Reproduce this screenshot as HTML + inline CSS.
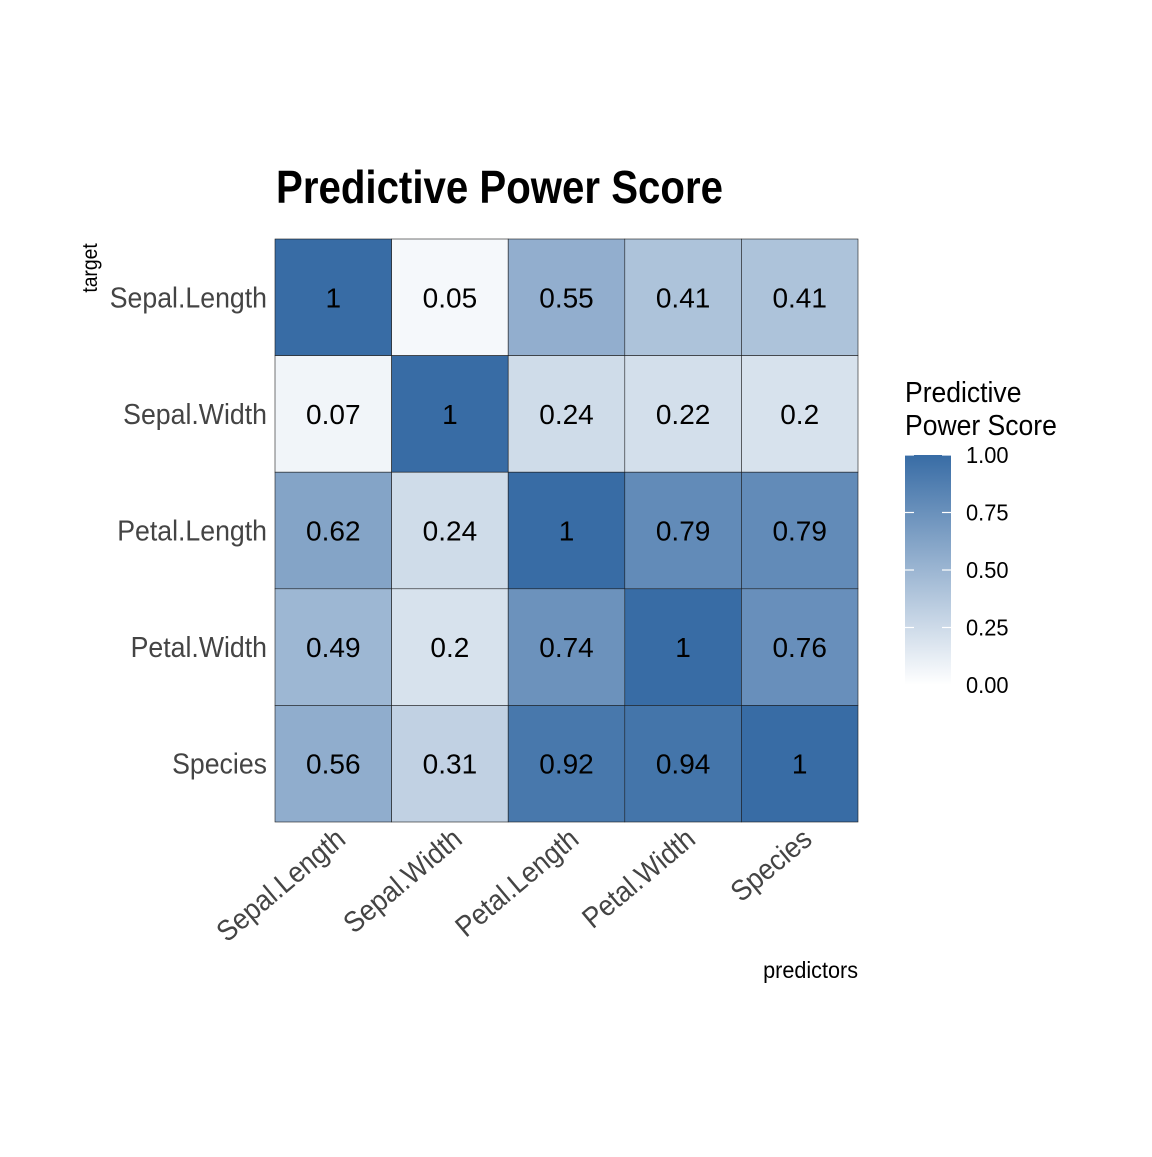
<!DOCTYPE html>
<html><head><meta charset="utf-8"><style>
body{margin:0;background:#fff;}
svg text{font-family:"Liberation Sans Narrow","Liberation Sans",sans-serif;}
</style></head><body>
<svg width="1152" height="1152" viewBox="0 0 1152 1152">
<text x="276" y="203" font-size="46" font-weight="bold" fill="#000" textLength="447" lengthAdjust="spacingAndGlyphs">Predictive Power Score</text>
<g id="cells"></g>
<g id="ylabels"></g>
<g id="xlabels"></g>
<text transform="translate(97,268) rotate(-90) scale(0.92,1)" text-anchor="middle" font-size="21" fill="#000">target</text>
<text transform="translate(858,978) scale(0.94,1)" text-anchor="end" font-size="23" fill="#000">predictors</text>
<defs><linearGradient id="lg" x1="0" y1="1" x2="0" y2="0">
<stop offset="0" stop-color="#ffffff"/><stop offset="1" stop-color="#386ca5"/></linearGradient></defs>
<text transform="translate(905,402) scale(0.915,1)" font-size="29" fill="#000">Predictive</text>
<text transform="translate(905,435) scale(0.915,1)" font-size="29" fill="#000">Power Score</text>
<rect x="905" y="455" width="46" height="230" fill="url(#lg)"/>
<g id="legend"></g>
</svg>
<script>
const predictors=["Sepal.Length","Sepal.Width","Petal.Length","Petal.Width","Species"];
const targets=["Sepal.Length","Sepal.Width","Petal.Length","Petal.Width","Species"];
const row0=[1,0.05,0.55,0.41,0.41];
const row1=[0.07,1,0.24,0.22,0.2];
const row2=[0.62,0.24,1,0.79,0.79];
const row3=[0.49,0.2,0.74,1,0.76];
const row4=[0.56,0.31,0.92,0.94,1];
const values=[row0,row1,row2,row3,row4];
const legendTicks=[0,0.25,0.5,0.75,1];
const NS="http://www.w3.org/2000/svg";
const x0=275,y0=239,cw=116.6,ch=116.6;
const xs=i=>x0+i*cw, ys=j=>y0+j*ch;
function col(v){const a=[255,255,255],b=[56,108,165];return "rgb("+a.map((c,i)=>Math.round(c+(b[i]-c)*v)).join(",")+")";}
function mk(t,at){const e=document.createElementNS(NS,t);for(const k in at)e.setAttribute(k,at[k]);return e;}
const cells=document.getElementById("cells");
values.forEach((r,j)=>r.forEach((v,i)=>{
 const rc=mk("rect",{x:xs(i),y:ys(j),width:cw,height:ch,fill:col(v),stroke:"#1a1a1a","stroke-width":0.6});
 
 
 cells.appendChild(rc);
 const t=mk("text",{x:xs(i)+cw/2,y:ys(j)+ch/2+10,"text-anchor":"middle","font-size":28,fill:"#000"});
 t.style.fontFamily='"Liberation Sans",sans-serif';
 t.textContent=String(v);
 
 
 cells.appendChild(t);
}));
const yl=document.getElementById("ylabels");
targets.forEach((n,j)=>{const t=mk("text",{transform:"translate(267,"+(ys(j)+ch/2+10)+") scale(0.92,1)","text-anchor":"end","font-size":29,fill:"#444"});t.textContent=n;
 
 yl.appendChild(t);});
const xl=document.getElementById("xlabels");
predictors.forEach((n,i)=>{const cx=xs(i)+cw/2+14;const t=mk("text",{transform:"translate("+cx+",842) rotate(-40) scale(0.92,1)","text-anchor":"end","font-size":29,fill:"#444"});t.textContent=n;
 
 xl.appendChild(t);});
const lg=document.getElementById("legend");
legendTicks.forEach(v=>{const y=685-v*230;
 const l1=mk("line",{x1:905,x2:914,y1:y,y2:y,stroke:"#fff","stroke-width":1.2});
 
 lg.appendChild(l1);
 const l2=mk("line",{x1:942,x2:951,y1:y,y2:y,stroke:"#fff","stroke-width":1.2});
 
 lg.appendChild(l2);
 const t=mk("text",{transform:"translate(966,"+(y+8)+") scale(0.95,1)","font-size":23,fill:"#000"});t.textContent=v.toFixed(2);
 
 lg.appendChild(t);});
</script>
</body></html>
